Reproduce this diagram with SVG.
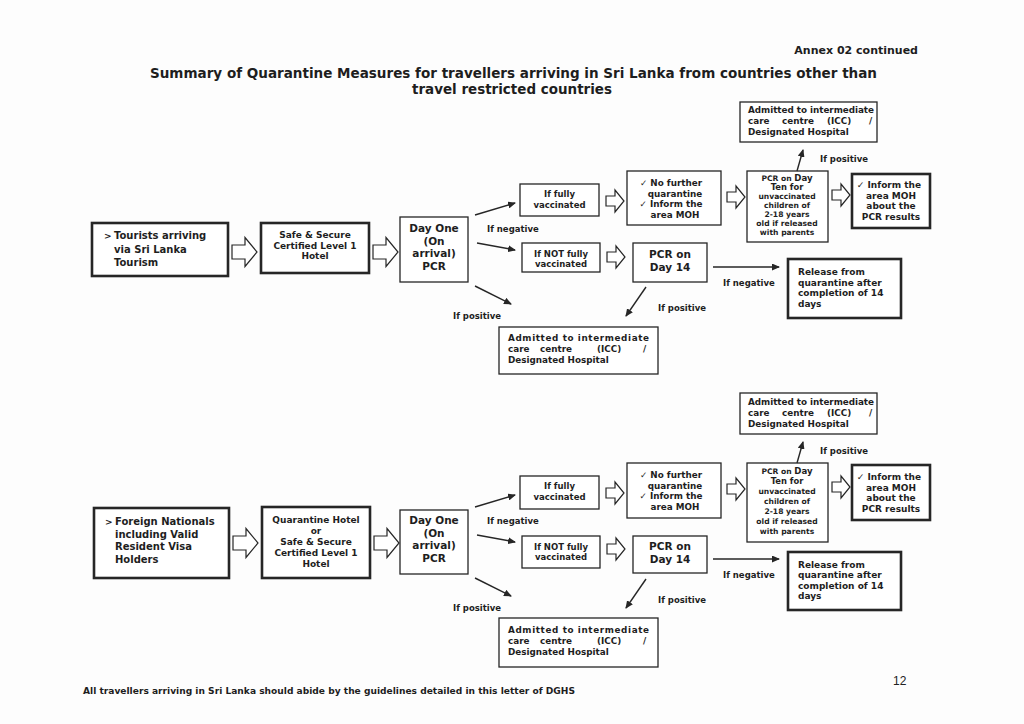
<svg xmlns="http://www.w3.org/2000/svg" width="1024" height="724" viewBox="0 0 1024 724">
<defs>
<style>
.bg{fill:#fdfdfd}
.b{fill:#fff;stroke:#262626;stroke-width:1.3}
.bt{fill:#fff;stroke:#262626;stroke-width:2.6}
.t{font-family:"DejaVu Sans",Verdana,sans-serif;font-weight:bold;fill:#1e1e1e}
.m{text-anchor:middle}
.f10{font-size:10px}
.f105{font-size:10.5px}
.f9{font-size:9px}
.f88{font-size:8.8px}
.f85{font-size:8.5px}
.f76{font-size:7.6px}
.ln{stroke:#262626;stroke-width:1.4;fill:none;marker-end:url(#ah)}
.ha{fill:#fff;stroke:#262626;stroke-width:1.2;stroke-linejoin:miter}
</style>
<marker id="ah" markerWidth="8" markerHeight="7" refX="7" refY="3.5" orient="auto" markerUnits="userSpaceOnUse">
<path d="M0,0 L8,3.5 L0,7 Z" fill="#262626"/>
</marker>
<path id="bigArrow" d="M0,-7 H13 V-14.5 L25,0 L13,14.5 V7 H0 Z"/>
<path id="smallArrow" d="M0,-5 H9 V-11 L18,0 L9,11 V5 H0 Z"/>
</defs>
<rect class="bg" x="0" y="0" width="1024" height="724"/>

<g id="header">
<text class="t" x="918" y="54" font-size="11" text-anchor="end">Annex 02 continued</text>
<text class="t" x="150" y="78" font-size="13.5" textLength="727" lengthAdjust="spacingAndGlyphs">Summary of Quarantine Measures for travellers arriving in Sri Lanka from countries other than</text>
<text class="t" x="512" y="94" font-size="13.5" text-anchor="middle" textLength="200" lengthAdjust="spacingAndGlyphs">travel restricted countries</text>
</g>

<!-- ===== TOP PANEL ===== -->
<g id="t_tourists">
<rect class="bt" x="92" y="223" width="136" height="53"/>
<text class="t f9" x="104" y="239">&gt;</text>
<text class="t f10" x="114" y="239">Tourists arriving</text>
<text class="t f10" x="114" y="252.5">via Sri Lanka</text>
<text class="t f10" x="114" y="266">Tourism</text>
</g>
<g id="t_hotel">
<rect class="bt" x="261" y="223" width="108" height="50"/>
<text class="t f9 m" x="315" y="238">Safe &amp; Secure</text>
<text class="t f9 m" x="315" y="248.5">Certified Level 1</text>
<text class="t f9 m" x="315" y="259">Hotel</text>
</g>
<g id="t_dayone">
<rect class="b" x="400" y="217" width="68" height="65"/>
<text class="t f105 m" x="434" y="232">Day One</text>
<text class="t f105 m" x="434" y="244.5">(On</text>
<text class="t f105 m" x="434" y="257">arrival)</text>
<text class="t f105 m" x="434" y="269.5">PCR</text>
</g>
<g id="t_fully">
<rect class="b" x="520" y="184" width="79" height="32"/>
<text class="t f85 m" x="559.5" y="197">If fully</text>
<text class="t f85 m" x="559.5" y="208">vaccinated</text>
</g>
<g id="t_nofurther">
<rect class="b" x="627" y="171" width="94" height="54"/>
<text class="t f88 m" x="671" y="186">✓ No further</text>
<text class="t f88 m" x="675" y="196.5">quarantine</text>
<text class="t f88 m" x="671" y="207">✓ Inform the</text>
<text class="t f88 m" x="675" y="217.5">area MOH</text>
</g>
<g id="t_notfully">
<rect class="b" x="522" y="243" width="78" height="29"/>
<text class="t f85 m" x="561" y="256.5">If NOT fully</text>
<text class="t f85 m" x="561" y="267">vaccinated</text>
</g>
<g id="t_pcr14">
<rect class="b" x="633" y="243" width="74" height="39"/>
<text class="t f105 m" x="670" y="258">PCR on</text>
<text class="t f105 m" x="670" y="271">Day 14</text>
</g>
<g id="t_icc_top">
<rect class="b" x="740" y="102" width="137" height="40"/>
<text class="t f88" x="748" y="113" textLength="126" lengthAdjust="spacing">Admitted to intermediate</text>
<text class="t f88" x="748" y="124">care</text>
<text class="t f88" x="782" y="124">centre</text>
<text class="t f88" x="827" y="124">(ICC)</text>
<text class="t f88" x="869" y="124">/</text>
<text class="t f88" x="748" y="135">Designated Hospital</text>
</g>
<g id="t_pcrten">
<rect class="b" x="747" y="171" width="81" height="71"/>
<text class="t f76 m" x="787" y="181">PCR on <tspan font-size="8.6">Day</tspan></text>
<text class="t m" font-size="8.4" x="787" y="190">Ten for</text>
<text class="t f76 m" x="787" y="199">unvaccinated</text>
<text class="t f76 m" x="787" y="208">children of</text>
<text class="t f76 m" x="787" y="217">2-18 years</text>
<text class="t f76 m" x="787" y="226">old if released</text>
<text class="t f76 m" x="787" y="235">with parents</text>
</g>
<g id="t_inform">
<rect class="bt" x="852" y="174" width="78" height="54"/>
<text class="t f9 m" x="889" y="188">✓ Inform the</text>
<text class="t f9 m" x="891" y="198.5">area MOH</text>
<text class="t f9 m" x="891" y="209">about the</text>
<text class="t f9 m" x="891" y="219.5">PCR results</text>
</g>
<g id="t_release">
<rect class="bt" x="788" y="259" width="113" height="59"/>
<text class="t f9" x="798" y="275">Release from</text>
<text class="t f9" x="798" y="285.5">quarantine after</text>
<text class="t f9" x="798" y="296">completion of 14</text>
<text class="t f9" x="798" y="306.5">days</text>
</g>
<g id="t_icc_bottom">
<rect class="b" x="499" y="327" width="159" height="47"/>
<text class="t f88" x="508" y="341" textLength="141" lengthAdjust="spacing">Admitted to intermediate</text>
<text class="t f88" x="508" y="352">care</text>
<text class="t f88" x="540" y="352">centre</text>
<text class="t f88" x="597" y="352">(ICC)</text>
<text class="t f88" x="643" y="352">/</text>
<text class="t f88" x="508" y="363">Designated Hospital</text>
</g>

<!-- ===== BOTTOM PANEL ===== -->
<g id="b_foreign">
<rect class="bt" x="94" y="508" width="135" height="70"/>
<text class="t f9" x="105" y="525">&gt;</text>
<text class="t f10" x="115" y="525">Foreign Nationals</text>
<text class="t f10" x="115" y="537.5">including Valid</text>
<text class="t f10" x="115" y="550">Resident Visa</text>
<text class="t f10" x="115" y="562.5">Holders</text>
</g>
<g id="b_hotel">
<rect class="bt" x="262" y="507" width="108" height="71"/>
<text class="t f9 m" x="316" y="523">Quarantine Hotel</text>
<text class="t f9 m" x="316" y="534">or</text>
<text class="t f9 m" x="316" y="545">Safe &amp; Secure</text>
<text class="t f9 m" x="316" y="556">Certified Level 1</text>
<text class="t f9 m" x="316" y="567">Hotel</text>
</g>
<g id="b_dayone">
<rect class="b" x="400" y="510" width="68" height="64"/>
<text class="t f105 m" x="434" y="524">Day One</text>
<text class="t f105 m" x="434" y="536.5">(On</text>
<text class="t f105 m" x="434" y="549">arrival)</text>
<text class="t f105 m" x="434" y="561.5">PCR</text>
</g>
<g id="b_fully">
<rect class="b" x="520" y="476" width="79" height="33"/>
<text class="t f85 m" x="559.5" y="489">If fully</text>
<text class="t f85 m" x="559.5" y="500">vaccinated</text>
</g>
<g id="b_nofurther">
<rect class="b" x="627" y="463" width="94" height="55"/>
<text class="t f88 m" x="671" y="478">✓ No further</text>
<text class="t f88 m" x="675" y="488.5">quarantine</text>
<text class="t f88 m" x="671" y="499">✓ Inform the</text>
<text class="t f88 m" x="675" y="509.5">area MOH</text>
</g>
<g id="b_notfully">
<rect class="b" x="522" y="536" width="78" height="32"/>
<text class="t f85 m" x="561" y="549.5">If NOT fully</text>
<text class="t f85 m" x="561" y="560">vaccinated</text>
</g>
<g id="b_pcr14">
<rect class="b" x="633" y="536" width="74" height="37"/>
<text class="t f105 m" x="670" y="550">PCR on</text>
<text class="t f105 m" x="670" y="563">Day 14</text>
</g>
<g id="b_icc_top">
<rect class="b" x="740" y="393" width="137" height="41"/>
<text class="t f88" x="748" y="405" textLength="126" lengthAdjust="spacing">Admitted to intermediate</text>
<text class="t f88" x="748" y="416">care</text>
<text class="t f88" x="782" y="416">centre</text>
<text class="t f88" x="827" y="416">(ICC)</text>
<text class="t f88" x="869" y="416">/</text>
<text class="t f88" x="748" y="427">Designated Hospital</text>
</g>
<g id="b_pcrten">
<rect class="b" x="747" y="463" width="81" height="79"/>
<text class="t f76 m" x="787" y="473.5">PCR on <tspan font-size="8.6">Day</tspan></text>
<text class="t m" font-size="8.4" x="787" y="484">Ten for</text>
<text class="t f76 m" x="787" y="494">unvaccinated</text>
<text class="t f76 m" x="787" y="504">children of</text>
<text class="t f76 m" x="787" y="513.5">2-18 years</text>
<text class="t f76 m" x="787" y="523.5">old if released</text>
<text class="t f76 m" x="787" y="533.5">with parents</text>
</g>
<g id="b_inform">
<rect class="bt" x="852" y="465" width="78" height="55"/>
<text class="t f9 m" x="889" y="480">✓ Inform the</text>
<text class="t f9 m" x="891" y="490.5">area MOH</text>
<text class="t f9 m" x="891" y="501">about the</text>
<text class="t f9 m" x="891" y="511.5">PCR results</text>
</g>
<g id="b_release">
<rect class="bt" x="788" y="552" width="113" height="58"/>
<text class="t f9" x="798" y="567.5">Release from</text>
<text class="t f9" x="798" y="578">quarantine after</text>
<text class="t f9" x="798" y="588.5">completion of 14</text>
<text class="t f9" x="798" y="599">days</text>
</g>
<g id="b_icc_bottom">
<rect class="b" x="499" y="618" width="159" height="49"/>
<text class="t f88" x="508" y="632.5" textLength="141" lengthAdjust="spacing">Admitted to intermediate</text>
<text class="t f88" x="508" y="643.5">care</text>
<text class="t f88" x="540" y="643.5">centre</text>
<text class="t f88" x="597" y="643.5">(ICC)</text>
<text class="t f88" x="643" y="643.5">/</text>
<text class="t f88" x="508" y="654.5">Designated Hospital</text>
</g>

<!-- ===== CONNECTORS ===== -->
<g id="connectors">
<use href="#bigArrow" class="ha" x="232" y="252"/>
<use href="#bigArrow" class="ha" x="373" y="252"/>
<use href="#smallArrow" class="ha" x="606" y="201"/>
<use href="#smallArrow" class="ha" x="727" y="197"/>
<use href="#smallArrow" class="ha" x="607" y="257"/>
<use href="#smallArrow" class="ha" x="832" y="195"/>
<line class="ln" x1="475" y1="215" x2="515" y2="203"/>
<line class="ln" x1="477" y1="243" x2="515" y2="250"/>
<line class="ln" x1="475" y1="286" x2="511" y2="304"/>
<line class="ln" x1="646" y1="287" x2="626" y2="316"/>
<line class="ln" x1="713" y1="267" x2="779" y2="267"/>
<line class="ln" x1="797" y1="171" x2="803" y2="150"/>

<use href="#bigArrow" class="ha" x="233" y="543"/>
<use href="#bigArrow" class="ha" x="374" y="543"/>
<use href="#smallArrow" class="ha" x="606" y="493"/>
<use href="#smallArrow" class="ha" x="727" y="489"/>
<use href="#smallArrow" class="ha" x="607" y="549"/>
<use href="#smallArrow" class="ha" x="832" y="487"/>
<line class="ln" x1="475" y1="507" x2="515" y2="495"/>
<line class="ln" x1="477" y1="535" x2="515" y2="542"/>
<line class="ln" x1="475" y1="578" x2="511" y2="596"/>
<line class="ln" x1="646" y1="579" x2="626" y2="608"/>
<line class="ln" x1="713" y1="559" x2="779" y2="559"/>
<line class="ln" x1="797" y1="463" x2="803" y2="442"/>
</g>

<g id="labels">
<text class="t f85" x="487" y="232">If negative</text>
<text class="t f85" x="453" y="319">If positive</text>
<text class="t f85" x="658" y="311">If positive</text>
<text class="t f85" x="723" y="286">If negative</text>
<text class="t f85" x="820" y="162">If positive</text>
<text class="t f85" x="487" y="524">If negative</text>
<text class="t f85" x="453" y="611">If positive</text>
<text class="t f85" x="658" y="603">If positive</text>
<text class="t f85" x="723" y="578">If negative</text>
<text class="t f85" x="820" y="454">If positive</text>
</g>

<g id="footer">
<text class="t" x="83" y="694" font-size="8.5" textLength="492" lengthAdjust="spacingAndGlyphs">All travellers arriving in Sri Lanka should abide by the guidelines detailed in this letter of DGHS</text>
<text x="893" y="685" font-family="Liberation Sans, Arial, sans-serif" font-size="12" fill="#222">12</text>
</g>
</svg>
